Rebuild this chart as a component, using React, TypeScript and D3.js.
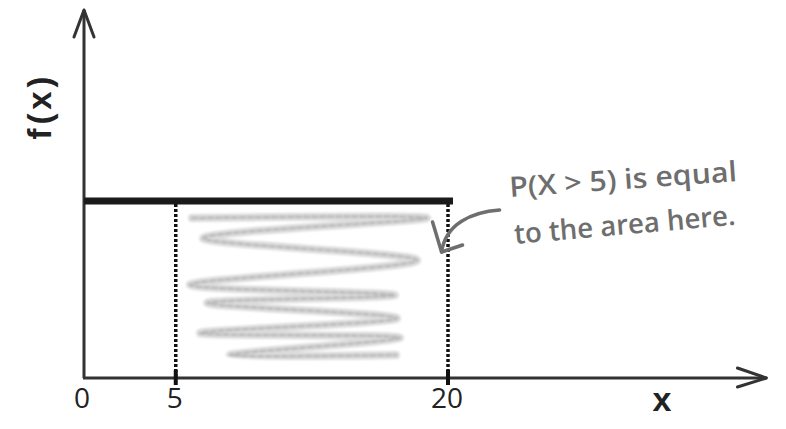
import React, { useEffect, useRef } from 'react';
import * as d3 from 'd3';

// ticks on the x axis
const tickValues = [0, 5, 20];
const tickLabels = ['0', '5', '20'];

// uniform density from 0 to 20
const densityX = [0, 20];
const densityY = [0.05, 0.05];

// shaded region bounds
const shadeFrom = 5;
const shadeTo = 20;

// hand scribble inside the shaded region (data units)
const scribbleX = [5.95, 18.9, 6.56, 18.35, 5.84, 17.13, 6.78, 17.25, 6.39, 17.41, 8.04, 17.19];
const scribbleY = [0.0452, 0.0452, 0.0395, 0.0333, 0.0263, 0.0234, 0.0212, 0.0169, 0.0127, 0.0113, 0.0065, 0.0065];

const noteLines = ['P(X > 5) is equal', 'to the area here.'];

const App = () => {
  const svgRef = useRef<SVGSVGElement>(null);

  useEffect(() => {
    const svg = d3.select(svgRef.current);
    svg.selectAll('*').remove();

    const width = 786;
    const height = 429;

    const xScale = d3.scaleLinear().domain([0, 20]).range([84, 447]);
    const yScale = d3.scaleLinear().domain([0, 0.104]).range([378, 10]);
    const xMax = 37.6;
    const yMax = 0.104;

    svg.attr('width', width).attr('height', height);
    svg.append('rect').attr('width', width).attr('height', height).attr('fill', '#fff');

    const defs = svg.append('defs');
    defs.append('filter').attr('id', 'soft')
      .append('feGaussianBlur').attr('stdDeviation', 1.3);

    const g = svg.append('g');
    const axisColor = '#333';

    // scribble shading
    const scribble = d3.line<number>()
      .x((d, i) => xScale(scribbleX[i]))
      .y((d, i) => yScale(scribbleY[i]))
      .curve(d3.curveCatmullRom.alpha(0.9));
    const sg = g.append('g').attr('filter', 'url(#soft)');
    sg.append('path')
      .datum(scribbleX)
      .attr('d', scribble)
      .attr('fill', 'none')
      .attr('stroke', '#dcdcdc')
      .attr('stroke-width', 8)
      .attr('stroke-linejoin', 'round')
      .attr('stroke-linecap', 'round');
    sg.append('path')
      .datum(scribbleX)
      .attr('d', scribble)
      .attr('fill', 'none')
      .attr('stroke', '#b8b8b8')
      .attr('stroke-width', 2.5)
      .attr('stroke-dasharray', '5,3')
      .attr('stroke-linecap', 'round');

    // dotted verticals
    [shadeFrom, shadeTo].forEach(v => {
      g.append('line')
        .attr('x1', xScale(v) + 1).attr('x2', xScale(v) + 1)
        .attr('y1', yScale(densityY[0]) + 3).attr('y2', yScale(0))
        .attr('stroke', '#111')
        .attr('stroke-width', 3.5)
        .attr('stroke-dasharray', '3,2');
    });

    // axes
    g.append('line')
      .attr('x1', xScale(0)).attr('x2', xScale(0))
      .attr('y1', yScale(0)).attr('y2', yScale(yMax))
      .attr('stroke', axisColor).attr('stroke-width', 3);
    g.append('line')
      .attr('x1', xScale(0) - 1).attr('x2', xScale(xMax))
      .attr('y1', yScale(0)).attr('y2', yScale(0))
      .attr('stroke', axisColor).attr('stroke-width', 3);

    // arrow heads
    const ytip = [xScale(0), yScale(yMax)];
    g.append('path')
      .attr('d', `M${ytip[0] - 10},${ytip[1] + 27}L${ytip[0]},${ytip[1]}L${ytip[0] + 10},${ytip[1] + 27}`)
      .attr('fill', 'none').attr('stroke', axisColor).attr('stroke-width', 3)
      .attr('stroke-linejoin', 'round').attr('stroke-linecap', 'round');
    const xtip = [xScale(xMax), yScale(0)];
    g.append('path')
      .attr('d', `M${xtip[0] - 29},${xtip[1] - 10}L${xtip[0]},${xtip[1]}L${xtip[0] - 29},${xtip[1] + 9}`)
      .attr('fill', 'none').attr('stroke', axisColor).attr('stroke-width', 3)
      .attr('stroke-linejoin', 'round').attr('stroke-linecap', 'round');

    // density line
    g.append('line')
      .attr('x1', xScale(densityX[0])).attr('x2', xScale(densityX[1]) + 6)
      .attr('y1', yScale(densityY[0])).attr('y2', yScale(densityY[1]))
      .attr('stroke', '#1a1a1a').attr('stroke-width', 7);

    // ticks
    tickValues.forEach((v, i) => {
      if (v !== 0) {
        g.append('line')
          .attr('x1', xScale(v) + 1).attr('x2', xScale(v) + 1)
          .attr('y1', yScale(0) - 8).attr('y2', yScale(0) + 7)
          .attr('stroke', '#111').attr('stroke-width', 4);
      }
      g.append('text')
        .attr('x', xScale(v) - (v === 0 ? 2 : 0))
        .attr('y', 408)
        .attr('text-anchor', 'middle')
        .attr('font-family', 'Open Sans')
        .attr('font-size', 28)
        .attr('fill', '#222')
        .text(tickLabels[i]);
    });

    // axis labels
    g.append('text')
      .attr('x', 662).attr('y', 411)
      .attr('text-anchor', 'middle')
      .attr('font-family', 'Liberation Sans')
      .attr('font-weight', 'bold')
      .attr('font-size', 34)
      .attr('fill', '#222')
      .text('x');
    g.append('text')
      .attr('transform', 'translate(51,108) rotate(-90)')
      .attr('text-anchor', 'middle')
      .attr('font-family', 'Liberation Sans')
      .attr('font-weight', 'bold')
      .attr('font-size', 33)
      .attr('textLength', 63)
      .attr('lengthAdjust', 'spacing')
      .attr('fill', '#222')
      .text('f(x)');

    // annotation
    const noteColor = '#6e6e6e';
    g.append('text')
      .attr('transform', 'translate(510,197) rotate(-4)')
      .attr('font-family', 'Open Sans')
      .attr('font-weight', 600)
      .attr('font-size', 28)
      .attr('textLength', 228)
      .attr('lengthAdjust', 'spacingAndGlyphs')
      .attr('fill', noteColor)
      .text(noteLines[0]);
    g.append('text')
      .attr('transform', 'translate(515,244) rotate(-5)')
      .attr('font-family', 'Open Sans')
      .attr('font-weight', 600)
      .attr('font-size', 28)
      .attr('textLength', 222)
      .attr('lengthAdjust', 'spacingAndGlyphs')
      .attr('fill', noteColor)
      .text(noteLines[1]);

    // curved arrow pointing at the area
    const tipX = xScale(19.7);
    const tipY = yScale(0.0356);
    g.append('path')
      .attr('d', `M${tipX + 58},${tipY - 42} C${tipX + 30},${tipY - 40} ${tipX + 4},${tipY - 28} ${tipX},${tipY}`)
      .attr('fill', 'none').attr('stroke', noteColor).attr('stroke-width', 3.5)
      .attr('stroke-linecap', 'round');
    g.append('path')
      .attr('d', `M${tipX - 9},${tipY - 30}L${tipX},${tipY}L${tipX + 21},${tipY - 7}`)
      .attr('fill', 'none').attr('stroke', noteColor).attr('stroke-width', 3.5)
      .attr('stroke-linecap', 'round').attr('stroke-linejoin', 'round');
  }, []);

  return <svg ref={svgRef} style={{ position: 'absolute', left: 0, top: 0 }}></svg>;
};

export default App;
